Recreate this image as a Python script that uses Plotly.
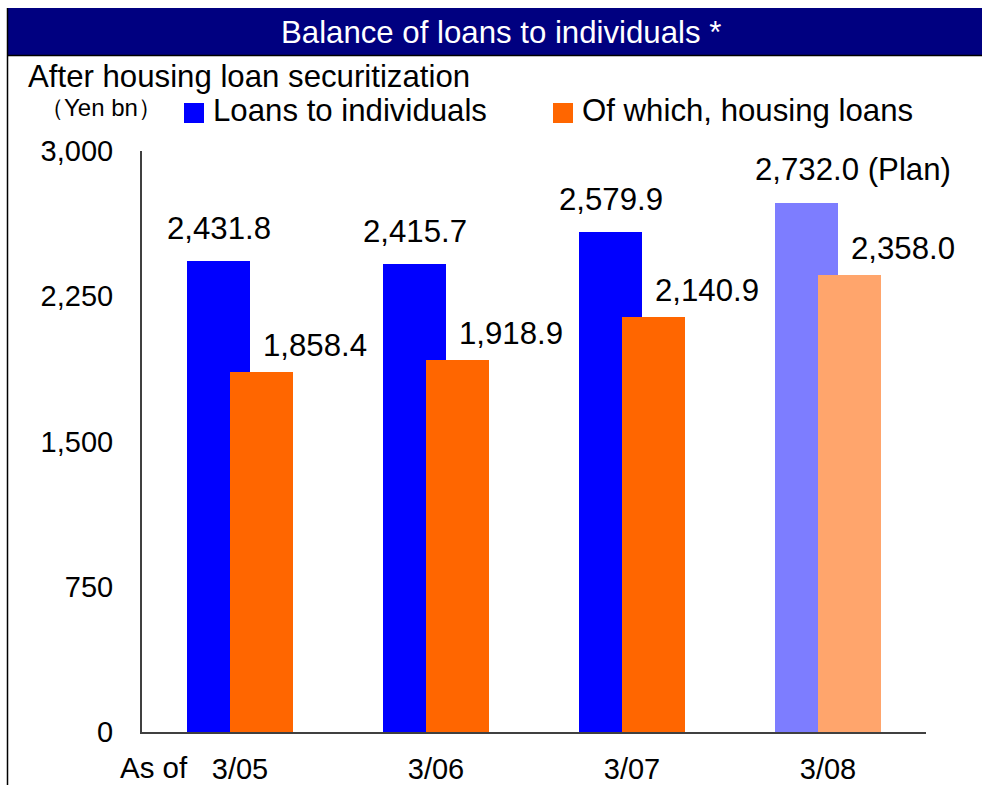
import plotly.graph_objects as go

# Fiscal year-end dates (March) and balances in Yen bn
categories = ["3/05", "3/06", "3/07", "3/08"]
loans_to_individuals = [2431.8, 2415.7, 2579.9, 2732.0]
housing_loans = [1858.4, 1918.9, 2140.9, 2358.0]
is_plan = [False, False, False, True]

series_names = ["Loans to individuals", "Of which, housing loans"]
y_ticks = [0, 750, 1500, 2250, 3000]

title_text = "Balance of loans to individuals *"
subtitle_text = "After housing loan securitization"
unit_text = "（Yen bn）"
as_of_text = "As of"

FONT = "Liberation Sans, Arial, sans-serif"
W, H = 982, 785
# plot area in pixels
L, R, T, B = 142, 926, 151, 732

BLUE, ORANGE = "#0000ff", "#ff6600"
# planned values are drawn in a lighter tint
BLUE_PLAN, ORANGE_PLAN = "#7d7dff", "#ffa56c"

TXT = 31.2


def px(x):
    return (x - L) / (R - L)


def py(y):
    return (B - y) / (B - T)


fig = go.Figure()
fig.add_trace(go.Bar(
    x=categories, y=loans_to_individuals, name=series_names[0],
    width=0.32, offset=-0.27,
    marker=dict(color=[BLUE_PLAN if p else BLUE for p in is_plan], line=dict(width=0)),
    showlegend=False,
))
fig.add_trace(go.Bar(
    x=categories, y=housing_loans, name=series_names[1],
    width=0.32, offset=-0.05,
    marker=dict(color=[ORANGE_PLAN if p else ORANGE for p in is_plan], line=dict(width=0)),
    showlegend=False,
))

annotations = []
# value labels
for c, v, p in zip(categories, loans_to_individuals, is_plan):
    txt = f"{v:,.1f}" + (" (Plan)" if p else "")
    annotations.append(dict(x=c, y=v, xref="x", yref="y", text=txt, showarrow=False,
                            xanchor="left", yanchor="middle", xshift=-75, yshift=33,
                            font=dict(family=FONT, size=TXT, color="black")))
for c, v in zip(categories, housing_loans):
    annotations.append(dict(x=c, y=v, xref="x", yref="y", text=f"{v:,.1f}", showarrow=False,
                            xanchor="left", yanchor="middle", xshift=21, yshift=27,
                            font=dict(family=FONT, size=TXT, color="black")))

# header texts
annotations.append(dict(x=px(501), y=py(33), xref="paper", yref="paper", text=title_text,
                        showarrow=False, xanchor="center", yanchor="middle",
                        font=dict(family=FONT, size=TXT, color="white")))
annotations.append(dict(x=px(26), y=py(76), xref="paper", yref="paper", text=subtitle_text,
                        showarrow=False, xanchor="left", yanchor="middle",
                        font=dict(family=FONT, size=TXT, color="black")))
annotations.append(dict(x=px(38), y=py(108), xref="paper", yref="paper", text=unit_text,
                        showarrow=False, xanchor="left", yanchor="middle",
                        font=dict(family=FONT, size=24, color="black")))
annotations.append(dict(x=px(118), y=py(767), xref="paper", yref="paper", text=as_of_text,
                        showarrow=False, xanchor="left", yanchor="middle",
                        font=dict(family=FONT, size=29.5, color="black")))

# legend
legend_items = [(series_names[0], BLUE, 184), (series_names[1], ORANGE, 553)]
shapes = [
    dict(type="rect", xref="paper", yref="paper", x0=px(7), x1=px(990), y0=py(8), y1=py(55),
         fillcolor="#000080", line=dict(width=0), layer="below"),
    dict(type="line", xref="paper", yref="paper", x0=px(7), x1=px(990), y0=py(55.5), y1=py(55.5),
         line=dict(color="black", width=1.5)),
    dict(type="line", xref="paper", yref="paper", x0=px(7.5), x1=px(7.5), y0=py(8), y1=py(790),
         line=dict(color="black", width=1.5)),
]
for name, color, x0 in legend_items:
    shapes.append(dict(type="rect", xref="paper", yref="paper", x0=px(x0), x1=px(x0 + 20),
                       y0=py(103), y1=py(123), fillcolor=color, line=dict(width=0)))
    annotations.append(dict(x=px(x0 + 27), y=py(111), xref="paper", yref="paper", text=name,
                            showarrow=False, xanchor="left", yanchor="middle",
                            font=dict(family=FONT, size=TXT, color="black")))

fig.update_layout(
    width=W, height=H,
    margin=dict(l=L, r=W - R, t=T, b=H - B, pad=0),
    paper_bgcolor="white", plot_bgcolor="white",
    barmode="overlay",
    bargap=0,
    shapes=shapes,
    annotations=annotations,
    font=dict(family=FONT, color="black"),
    xaxis=dict(range=[-0.5, 3.5], showline=True, linecolor="#404040", linewidth=2,
               showgrid=False, ticks="", tickfont=dict(family=FONT, size=29),
               ticklabelstandoff=10, zeroline=False, fixedrange=True, automargin=False),
    yaxis=dict(range=[0, 3000], tickvals=y_ticks, tickformat=",", showline=True,
               linecolor="#404040", linewidth=2, showgrid=False, ticks="",
               tickfont=dict(family=FONT, size=29), ticklabelstandoff=21,
               zeroline=False, fixedrange=True, automargin=False),
)

fig.write_html("out.html")
